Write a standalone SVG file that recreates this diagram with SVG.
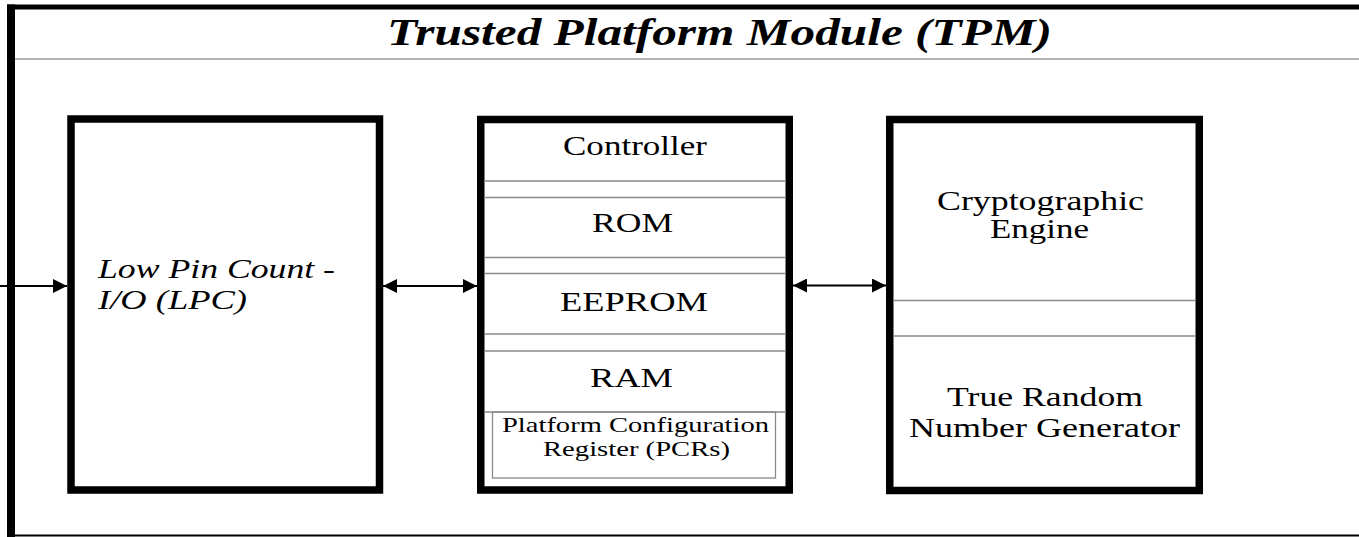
<svg xmlns="http://www.w3.org/2000/svg" width="1359" height="537" viewBox="0 0 1359 537">
<style>
  .box { fill: #ffffff; stroke: #000000; stroke-width: 7.5; }
  .div { stroke: #8a8a8a; stroke-width: 1.3; fill: none; }
  .frame { stroke: #000000; fill: none; }
  .t { font-family: "Liberation Serif", "Times New Roman", serif; fill: #000000; }
  .lbl { font-size: 27px; }
  .sm { font-size: 21px; }
  .it { font-style: italic; font-size: 27px; }
  .title { font-size: 38px; font-weight: bold; font-style: italic; }
  .conn { stroke: #000000; stroke-width: 2; fill: none; }
</style>
<defs>
  <marker id="ah" markerUnits="userSpaceOnUse" markerWidth="14" markerHeight="14" refX="14" refY="7" orient="auto-start-reverse">
    <path d="M0,0 L14,7 L0,14 z" fill="#000000"/>
  </marker>
</defs>
<rect x="0" y="0" width="1359" height="537" fill="#ffffff"/>

<g id="frame">
  <line class="frame" x1="11" y1="4.5" x2="11" y2="537" stroke-width="8"/>
  <line class="frame" x1="7" y1="7" x2="1359" y2="7" stroke-width="5"/>
  <line x1="15" y1="59" x2="1359" y2="59" stroke="#999999" stroke-width="1.5"/>
  <line class="frame" x1="7" y1="535.5" x2="1359" y2="535.5" stroke-width="2"/>
  <text class="t title" x="387" y="45" textLength="665" lengthAdjust="spacingAndGlyphs">Trusted Platform Module (TPM)</text>
</g>

<g id="lpc">
  <rect class="box" x="71" y="119" width="308.5" height="371"/>
  <text class="t it" x="98" y="278" textLength="237" lengthAdjust="spacingAndGlyphs">Low Pin Count -</text>
  <text class="t it" x="98" y="309" textLength="149" lengthAdjust="spacingAndGlyphs">I/O (LPC)</text>
</g>

<g id="memory">
  <rect class="box" x="480.75" y="119.5" width="308.5" height="370.5"/>
  <line class="div" x1="484.5" y1="181" x2="786" y2="181"/>
  <line class="div" x1="484.5" y1="197.5" x2="786" y2="197.5"/>
  <line class="div" x1="484.5" y1="257.5" x2="786" y2="257.5"/>
  <line class="div" x1="484.5" y1="273.5" x2="786" y2="273.5"/>
  <line class="div" x1="484.5" y1="334" x2="786" y2="334"/>
  <line class="div" x1="484.5" y1="351" x2="786" y2="351"/>
  <line class="div" x1="484.5" y1="412" x2="786" y2="412"/>
  <rect class="div" x="492.5" y="412" width="283" height="66"/>
  <text class="t lbl" x="563" y="155" textLength="144" lengthAdjust="spacingAndGlyphs">Controller</text>
  <text class="t lbl" x="592" y="232" textLength="81" lengthAdjust="spacingAndGlyphs">ROM</text>
  <text class="t lbl" x="560" y="311" textLength="148" lengthAdjust="spacingAndGlyphs">EEPROM</text>
  <text class="t lbl" x="590" y="387" textLength="83" lengthAdjust="spacingAndGlyphs">RAM</text>
  <text class="t sm" x="502" y="432" textLength="267" lengthAdjust="spacingAndGlyphs">Platform Configuration</text>
  <text class="t sm" x="543" y="456" textLength="187" lengthAdjust="spacingAndGlyphs">Register (PCRs)</text>
</g>

<g id="crypto">
  <rect class="box" x="889.75" y="119.5" width="309.5" height="371"/>
  <line class="div" x1="894" y1="300.5" x2="1195" y2="300.5"/>
  <line class="div" x1="894" y1="336" x2="1195" y2="336"/>
  <text class="t lbl" x="937" y="210" textLength="207" lengthAdjust="spacingAndGlyphs">Cryptographic</text>
  <text class="t lbl" x="990" y="238" textLength="99" lengthAdjust="spacingAndGlyphs">Engine</text>
  <text class="t lbl" x="947" y="406" textLength="196" lengthAdjust="spacingAndGlyphs">True Random</text>
  <text class="t lbl" x="909" y="437" textLength="271" lengthAdjust="spacingAndGlyphs">Number Generator</text>
</g>

<g id="connectors">
  <line class="conn" x1="0" y1="286" x2="67" y2="286" marker-end="url(#ah)"/>
  <line class="conn" x1="383" y1="286" x2="477" y2="286" marker-start="url(#ah)" marker-end="url(#ah)"/>
  <line class="conn" x1="793" y1="285.5" x2="886" y2="285.5" marker-start="url(#ah)" marker-end="url(#ah)"/>
</g>
</svg>
